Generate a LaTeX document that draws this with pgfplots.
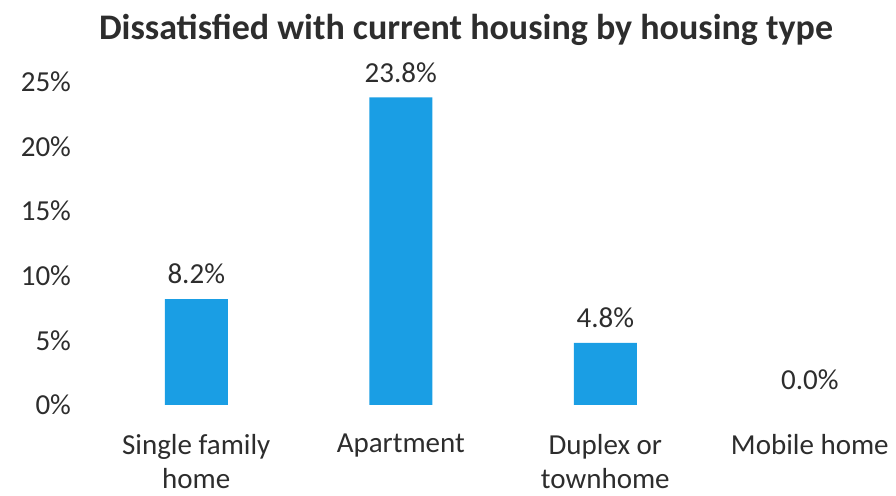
\documentclass[border=0pt]{standalone}
\usepackage{pgfplots}
\pgfplotsset{compat=1.18}
\usepackage{fontspec}
\setmainfont{Carlito}
\definecolor{barblue}{RGB}{26,158,228}
\definecolor{txt}{RGB}{45,45,45}
\begin{document}
\begin{tikzpicture}[x=1pt,y=1pt]
\useasboundingbox (0,0) rectangle (448,248);
\node[font=\fontsize{18}{21}\selectfont\bfseries, text=txt] at (233,233) {Dissatisfied with current housing by housing type};
\begin{axis}[
  at={(47pt,45.5pt)}, anchor=south west,
  scale only axis, width=388.6pt, height=161.5pt,
  xmin=-0.5, xmax=3.3, ymin=0, ymax=25,
  axis line style={draw=none}, tick style={draw=none}, clip=false,
  major tick length=0pt,
  ybar, bar width=31.5pt, bar shift=0pt,
  xtick={0,1,2,3},
  xticklabels={{Single family\\home},{Apartment},{Duplex or\\townhome},{Mobile home}},
  xticklabel style={align=center, anchor=north, yshift=-11pt, font=\fontsize{14.5}{17}\selectfont, text=txt},
  ytick={0,5,10,15,20,25},
  yticklabels={0\%,5\%,10\%,15\%,20\%,25\%},
  yticklabel style={anchor=east, xshift=-8pt, font=\fontsize{14.5}{16.5}\selectfont, text=txt},
  nodes near coords={\pgfmathprintnumber[fixed,fixed zerofill,precision=1,assume math mode=true]{\pgfplotspointmeta}\%},
  every node near coord/.append style={font=\fontsize{14.5}{16.5}\selectfont, text=txt, yshift=4pt},
]
\addplot[fill=barblue, draw=none] coordinates {(0,8.2) (1,23.8) (2,4.8)};
\addplot[fill=none, draw=none, forget plot] coordinates {(3,0.0)};
\end{axis}
\end{tikzpicture}
\end{document}
